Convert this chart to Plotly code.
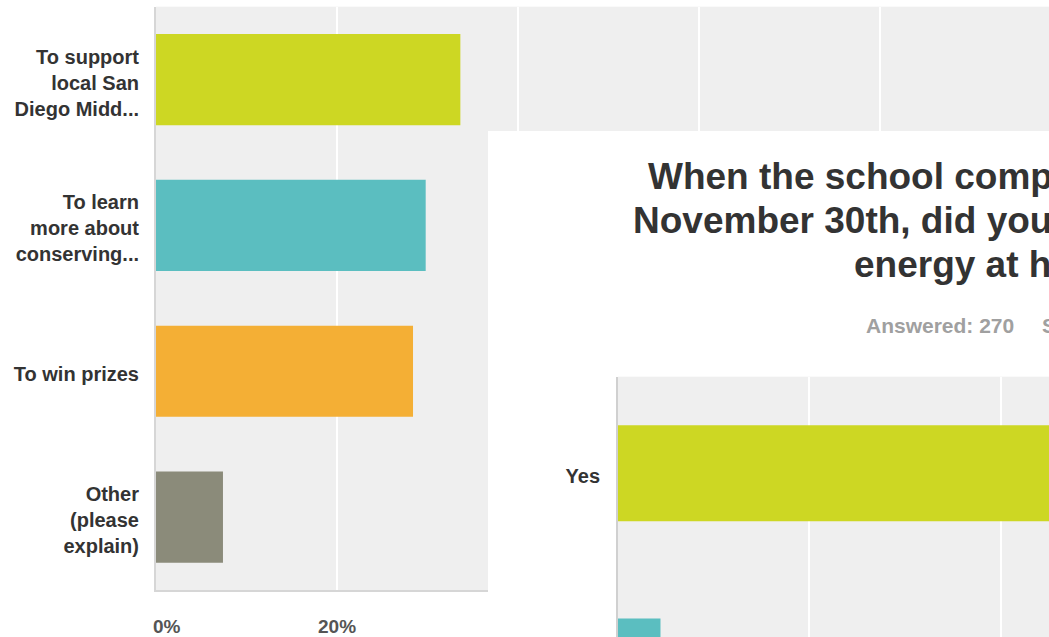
import plotly.graph_objects as go

W, H = 1049, 637

# ---- Background chart (partially covered) ----
reasons = [
    "To support<br>local San<br>Diego Midd...",
    "To learn<br>more about<br>conserving...",
    "To win prizes",
    "Other<br>(please<br>explain)",
]
reason_pct = [33.63, 29.8, 28.4, 7.4]
reason_colors = ["#cdd723", "#5bbec0", "#f4af35", "#8b8b7a"]
pct_ticks = [0, 20, 40, 60, 80, 100]
pct_tick_text = ["0%", "20%", "40%", "60%", "80%", "100%"]

# ---- Foreground chart (panel) ----
title_lines = [
    "When the school competition ended on",
    "November 30th, did you continue to save",
    "energy at home?",
]
answered_text = "Answered: 270"
skipped_text = "Skipped: 4"
answers = ["Yes", "No", "Not sure"]
answer_pct = [80.74, 4.44, 14.81]
answer_colors = ["#cdd723", "#5bbec0", "#f4af35"]

FONT = "Liberation Sans, Arial, Helvetica, sans-serif"
BG = "#efefef"

fig = go.Figure()

fig.add_trace(go.Bar(
    x=reason_pct, y=reasons, orientation="h",
    marker=dict(color=reason_colors, line=dict(width=0)),
    width=0.625, xaxis="x", yaxis="y", showlegend=False, hoverinfo="skip",
))

# invisible trace to create the panel subplot
fig.add_trace(go.Scatter(x=[], y=[], xaxis="x2", yaxis="y2", showlegend=False,
                         hoverinfo="skip"))

fig.add_trace(go.Bar(
    x=answer_pct, y=answers, orientation="h",
    marker=dict(color=answer_colors, line=dict(width=0)),
    width=0.497, xaxis="x3", yaxis="y3", showlegend=False, hoverinfo="skip",
))

x1_lo = 156 / W
y1_lo = 1 - 590 / H
y1_hi = 1 - 6.7 / H
x1_max = (W - 156) / 9.05

px_lo = 488 / W
py_hi = 1 - 131 / H

x3_lo = 618 / W
y3_hi = 1 - 376.7 / H
x3_max = (W - 618) / 9.57
y3_bottom = -0.5 + (H - 376.7) / 193.2

fig.update_layout(
    width=W, height=H,
    margin=dict(l=0, r=0, t=0, b=0),
    paper_bgcolor="white",
    plot_bgcolor=BG,
    font=dict(family=FONT, color="#333333"),
    xaxis=dict(domain=[x1_lo, 1], range=[0, x1_max], anchor="y",
               tickvals=pct_ticks, ticktext=pct_tick_text, showticklabels=False,
               showgrid=True, gridcolor="white", gridwidth=2, zeroline=False,
               showline=True, linecolor="#d6d6d6", linewidth=2, ticks="",
               fixedrange=True),
    yaxis=dict(domain=[y1_lo, y1_hi], range=[3.5, -0.5], anchor="x",
               type="category", showgrid=False, zeroline=False,
               showline=True, linecolor="#d6d6d6", linewidth=2,
               ticks="outside", ticklen=11, tickcolor="rgba(0,0,0,0)",
               ticklabelshift=-3,
               tickfont=dict(size=20, color="#333333", family=FONT, weight="bold"),
               fixedrange=True),
    xaxis2=dict(domain=[px_lo, 1], range=[0, 1], anchor="y2", visible=False,
                fixedrange=True),
    yaxis2=dict(domain=[0, py_hi], range=[0, 1], anchor="x2", visible=False,
                fixedrange=True),
    xaxis3=dict(domain=[x3_lo, 1], range=[0, x3_max], anchor="y3",
                tickvals=pct_ticks, ticktext=pct_tick_text, showticklabels=False,
                showgrid=True, gridcolor="white", gridwidth=2, zeroline=False,
                showline=False, ticks="", fixedrange=True),
    yaxis3=dict(domain=[0, y3_hi], range=[y3_bottom, -0.5], anchor="x3",
                type="category", showgrid=False, zeroline=False,
                showline=True, linecolor="#d0d0d0", linewidth=2,
                ticks="outside", ticklen=12, tickcolor="rgba(0,0,0,0)",
                ticklabelshift=-3,
                tickfont=dict(size=20, color="#333333", family=FONT, weight="bold"),
                fixedrange=True),
    shapes=[dict(type="rect", xref="x2", yref="y2", x0=0, x1=1, y0=0, y1=1,
                 fillcolor="white", line=dict(width=0), layer="below")],
)

ann = []
# tick labels of the background chart (0% is left-aligned in the original)
ann.append(dict(x=pct_ticks[0], y=1 - 626.5 / H, xref="x", yref="paper",
                text=pct_tick_text[0], showarrow=False, xanchor="left",
                yanchor="middle", xshift=-4, borderpad=0,
                font=dict(size=19, color="#555555", family=FONT, weight="bold")))
ann.append(dict(x=pct_ticks[1], y=1 - 626.5 / H, xref="x", yref="paper",
                text=pct_tick_text[1], showarrow=False, xanchor="center",
                yanchor="middle", borderpad=0,
                font=dict(size=19, color="#555555", family=FONT, weight="bold")))

title_x = [646.7, 631.7, 853]
title_y = [177, 221, 265]
for t, tx, ty in zip(title_lines, title_x, title_y):
    ann.append(dict(x=tx / W, y=1 - ty / H, xref="paper", yref="paper",
                    text=t, showarrow=False, xanchor="left", yanchor="middle",
                    borderpad=0,
                    font=dict(size=37, color="#333333", family=FONT, weight="bold")))

ann.append(dict(x=865 / W, y=1 - 325 / H, xref="paper", yref="paper",
                text=answered_text, showarrow=False, xanchor="left", yanchor="middle",
                borderpad=0,
                font=dict(size=21, color="#a0a0a0", family=FONT, weight="bold")))
ann.append(dict(x=1041 / W, y=1 - 325 / H, xref="paper", yref="paper",
                text=skipped_text, showarrow=False, xanchor="left", yanchor="middle",
                borderpad=0,
                font=dict(size=21, color="#a0a0a0", family=FONT, weight="bold")))

fig.update_layout(annotations=ann)

fig.write_html("out.html", config={"displayModeBar": False})
